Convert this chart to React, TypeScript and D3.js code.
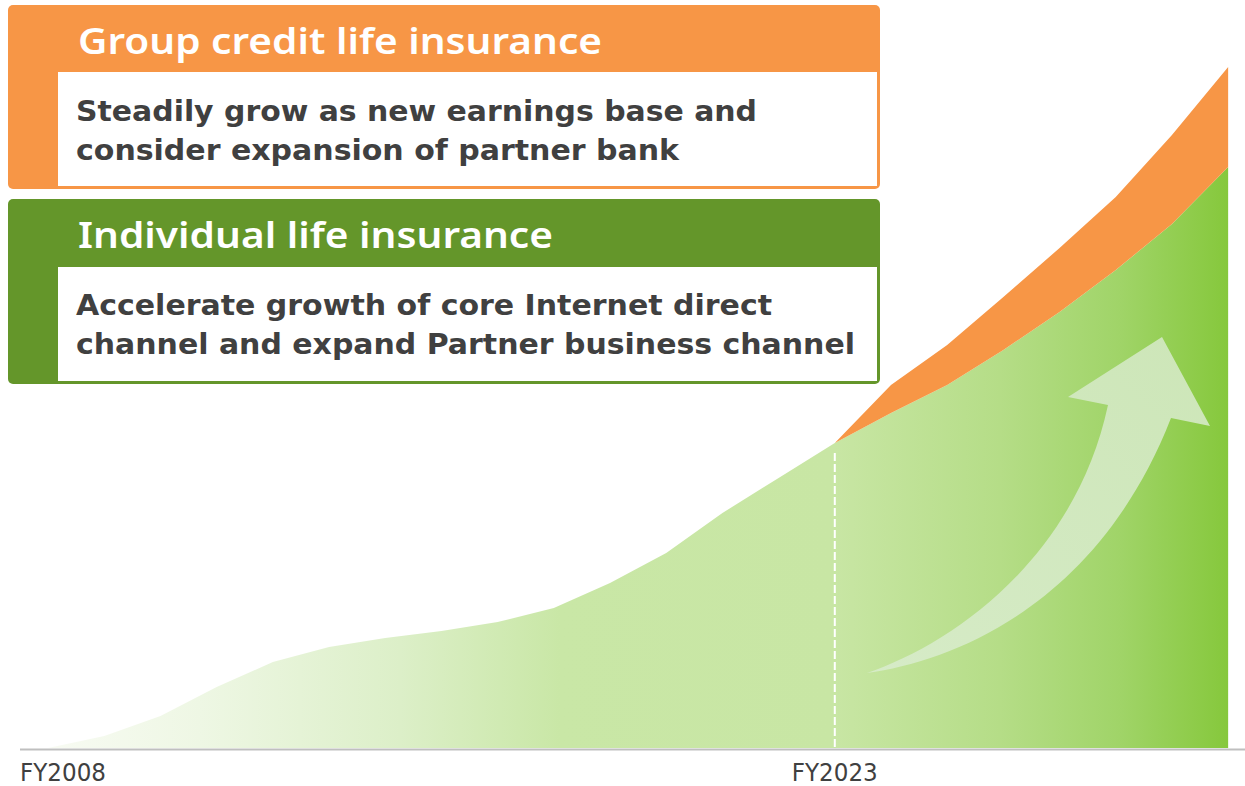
import React from "react";
import * as d3 from "d3";

// ---- data ----
const categories = [
  "FY2009", "FY2010", "FY2011", "FY2012", "FY2013", "FY2014", "FY2015", "FY2016",
  "FY2017", "FY2018", "FY2019", "FY2020", "FY2021", "FY2022", "FY2023", "FY2024",
  "FY2025", "FY2026", "FY2027", "FY2028", "FY2029", "FY2030",
];
const individualLife = [0, 12, 32, 61, 86, 101, 110, 117, 126, 140, 165, 195, 235, 270, 305, 335, 363, 398, 436, 478, 524, 581];
const groupCreditStartIndex = 14;
const groupCredit = [0, 28, 40, 53, 64, 73, 89, 100];
const tickLabels = [
  { label: "FY2008", index: -0.5, anchor: "start" },
  { label: "FY2023", index: 14, anchor: "middle" },
];
const boxTitles = ["Group credit life insurance", "Individual life insurance"];
const boxLines = [
  ["Steadily grow as new earnings base and", "consider expansion of partner bank"],
  ["Accelerate growth of core Internet direct", "channel and expand Partner business channel"],
];

const W = 1245;
const H = 786;
const ORANGE = "#f79646";
const GREEN = "#64962a";
const TEXT = "#404040";
const TITLE_FONT = "'Noto Sans', 'DejaVu Sans', sans-serif";
const BODY_FONT = "'DejaVu Sans', 'Noto Sans', sans-serif";

export default function App() {
  const x = d3.scaleLinear().domain([-0.5, 21.3]).range([20, 1245]);
  const y = d3.scaleLinear().domain([0, 700]).range([748, 48]);

  const greenData = individualLife.map((v, i) => ({ i, v }));
  const greenArea = d3
    .area<{ i: number; v: number }>()
    .x((d) => x(d.i))
    .y0(y(0))
    .y1((d) => y(d.v));

  const orangeData = groupCredit.map((g, k) => {
    const i = groupCreditStartIndex + k;
    return { i, base: individualLife[i], top: individualLife[i] + g };
  });
  const orangeArea = d3
    .area<{ i: number; base: number; top: number }>()
    .x((d) => x(d.i))
    .y0((d) => y(d.base))
    .y1((d) => y(d.top));

  const xStart = x(0);
  const xEnd = x(individualLife.length - 1);
  const xSplit = x(groupCreditStartIndex);
  const frac = (px: number) => (px - xStart) / (xEnd - xStart);

  // arrow (decorative)
  const arrowPath =
    "M867,673 C950,645 1075,560 1108,405 L1068,397 L1162,337 L1210,426 L1171,418 C1100,600 960,660 867,673 Z";

  const boxes = [
    { y0: 5, color: ORANGE, hHead: 67, hBody: 114 },
    { y0: 199, color: GREEN, hHead: 68, hBody: 114 },
  ];
  const titleLens = [524, 475];
  const lineLens = [
    [681, 603],
    [696, 779],
  ];

  return (
    <svg width={W} height={H} style={{ position: "absolute", left: 0, top: 0, background: "#fff" }}>
      <defs>
        <linearGradient id="gArea" gradientUnits="userSpaceOnUse" x1={xStart} x2={xEnd} y1={0} y2={0}>
          <stop offset={0} stopColor="#f8fbf3" />
          <stop offset={frac(200)} stopColor="#eef7e4" />
          <stop offset={frac(400)} stopColor="#dcefc8" />
          <stop offset={frac(560)} stopColor="#c9e7a6" />
          <stop offset={frac(xSplit)} stopColor="#c8e6a4" />
          <stop offset={frac(1000)} stopColor="#b5dd87" />
          <stop offset={frac(1120)} stopColor="#a0d468" />
          <stop offset={1} stopColor="#86c83c" />
        </linearGradient>
        <linearGradient id="gArrow" x1="0" y1="1" x2="1" y2="0">
          <stop offset={0} stopColor="#d6ebc7" />
          <stop offset={1} stopColor="#cde6b8" />
        </linearGradient>
      </defs>

      <path d={greenArea(greenData) || ""} fill="url(#gArea)" />
      <path d={orangeArea(orangeData) || ""} fill={ORANGE} />
      <path d={arrowPath} fill="url(#gArrow)" />
      <line
        x1={xSplit}
        x2={xSplit}
        y1={y(individualLife[groupCreditStartIndex]) + 10}
        y2={y(0)}
        stroke="#ffffff"
        strokeWidth={2}
        strokeDasharray="8 3"
      />
      <line x1={x(-0.5)} x2={W} y1={749.5} y2={749.5} stroke="#bfbfbf" strokeWidth={2} />

      {tickLabels.map((t) => (
        <text
          key={t.label}
          x={x(t.index)}
          y={781}
          fill={TEXT}
          fontFamily="'DejaVu Sans', sans-serif"
          fontSize={24}
          textAnchor={t.anchor as any}
          textLength={86}
          lengthAdjust="spacingAndGlyphs"
        >
          {t.label}
        </text>
      ))}

      {boxes.map((b, k) => (
        <g key={k}>
          <rect x={8} y={b.y0} width={872} height={b.hHead + b.hBody + 3} rx={5} fill={b.color} />
          <rect x={58} y={b.y0 + b.hHead} width={819} height={b.hBody} fill="#ffffff" />
          <text
            x={78}
            y={b.y0 + 49}
            fill="#ffffff"
            fontFamily={TITLE_FONT}
            fontWeight={600}
            fontSize={36}
            textLength={titleLens[k]}
            lengthAdjust="spacingAndGlyphs"
          >
            {boxTitles[k]}
          </text>
          {boxLines[k].map((ln, j) => (
            <text
              key={j}
              x={76}
              y={b.y0 + 116 + j * 39}
              fill={TEXT}
              fontFamily={BODY_FONT}
              fontWeight={700}
              fontSize={28}
              textLength={lineLens[k][j]}
              lengthAdjust="spacingAndGlyphs"
            >
              {ln}
            </text>
          ))}
        </g>
      ))}
    </svg>
  );
}
